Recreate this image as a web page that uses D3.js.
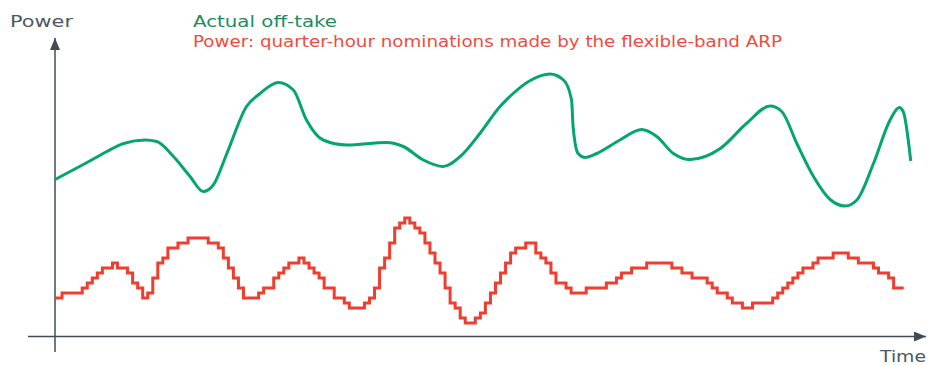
<!DOCTYPE html>
<html>
<head>
<meta charset="utf-8">
<script src="https://cdn.jsdelivr.net/npm/d3@7"></script>
<style>
  html, body { margin: 0; padding: 0; background: #ffffff; }
  svg { display: block; }
  text { font-family: "DejaVu Sans", sans-serif; font-size: 16.5px; }
</style>
</head>
<body>
<svg id="chart" width="928" height="365"></svg>
<script>
// Quarter-hour nominations of the flexible-band ARP (one value per quarter-hour)
const nominations = [
  8, 9, 9, 9, 9, 10, 11, 12, 13, 14, 14, 15, 14, 14, 13, 11, 10, 8, 9, 12,
  15, 16, 18, 18, 19, 19, 20, 20, 20, 20, 19, 19, 18, 16, 14, 12, 10, 8, 8, 8,
  9, 10, 10, 12, 13, 14, 15, 15, 16, 15, 14, 13, 12, 10, 10, 8, 8, 7, 6, 6,
  6, 7, 8, 10, 14, 16, 19, 22, 23, 24, 23, 22, 21, 19, 17, 15, 13, 10, 7, 6,
  4, 3, 3, 4, 5, 7, 9, 11, 13, 15, 17, 18, 18, 19, 19, 17, 16, 15, 13, 11,
  11, 10, 9, 9, 9, 10, 10, 10, 10, 11, 11, 12, 13, 13, 14, 14, 14, 15, 15, 15,
  15, 15, 14, 14, 13, 13, 12, 12, 12, 11, 10, 9, 9, 8, 7, 7, 6, 6, 7, 7,
  7, 7, 8, 9, 10, 11, 12, 13, 14, 14, 15, 16, 16, 16, 17, 17, 17, 16, 16, 15,
  15, 15, 14, 13, 13, 12, 10, 10
];

// Actual off-take: sampled along the time axis (quarter-hour index) and power
const offtakeTime = [
  -0.4, 6.5, 9.9, 13.2, 17.5, 19.8, 23.1, 26.4, 29.0, 31.0, 33.7, 37.6, 40.3,
  43.9, 46.9, 49.5, 52.8, 57.5, 65.4, 68.7, 72.7, 76.6, 80.0, 83.9, 87.9, 90.5,
  93.9, 97.8, 100.5, 102.1, 102.4, 103.4, 104.8, 107.1, 111.7, 116.0, 119.0,
  122.3, 125.6, 131.6, 136.8, 141.5, 143.8, 146.8, 150.1, 153.4, 156.4, 158.7,
  162.0, 165.3, 167.1, 167.9, 169.4
];
const offtakePower = [
  31.7, 35.4, 37.3, 38.9, 39.6, 39.3, 36.3, 32.3, 29.3, 30.6, 36.9, 46.3, 48.9,
  51.1, 49.6, 43.6, 39.6, 38.6, 39.1, 38.3, 35.6, 34.3, 36.3, 40.9, 46.3, 48.9,
  51.5, 52.8, 51.6, 47.6, 42.3, 36.9, 36.1, 36.9, 39.6, 41.7, 40.3,
  36.9, 35.7, 37.9, 42.9, 46.4, 45.3, 38.9, 32.3, 27.7, 26.4, 27.6,
  34.9, 43.6, 46.1, 45.3, 35.4
];

const legendLabels = [
  "Actual off-take",
  "Power: quarter-hour nominations made by the flexible-band ARP"
];
const axisLabels = { y: "Power", x: "Time" };

const colors = {
  axis: "#3f4c56",
  axisText: "#4b5862",
  offtake: "#05a472",
  offtakeText: "#1c8c5e",
  nomination: "#ef3e30",
  nominationText: "#ef4b3d"
};

const svg = d3.select("#chart");

const x = d3.scaleLinear().domain([-0.4, 168]).range([55, 903.7]);
const y = d3.scaleLinear().domain([0, 60]).range([338, 38]);

const axisX = x(x.domain()[0]);
const axisY = 336.5;

// Axis arrow heads
const defs = svg.append("defs");
defs.append("marker")
  .attr("id", "arrow")
  .attr("viewBox", "0 0 12 10")
  .attr("refX", 12).attr("refY", 5)
  .attr("markerWidth", 12).attr("markerHeight", 10)
  .attr("markerUnits", "userSpaceOnUse")
  .attr("orient", "auto")
  .append("path")
  .attr("d", "M0,0 L12,5 L0,10 Z")
  .attr("fill", colors.axis);

// Horizontal time axis
svg.append("line")
  .attr("x1", 28).attr("y1", axisY)
  .attr("x2", 926).attr("y2", axisY)
  .attr("stroke", colors.axis).attr("stroke-width", 1.5)
  .attr("marker-end", "url(#arrow)");

// Vertical power axis
svg.append("line")
  .attr("x1", axisX).attr("y1", 352)
  .attr("x2", axisX).attr("y2", 38)
  .attr("stroke", colors.axis).attr("stroke-width", 1.5)
  .attr("marker-end", "url(#arrow)");

// Nominations as a step line
const stepPoints = nominations.map((v, i) => [i === 0 ? x.domain()[0] : i, v]);
stepPoints.push([nominations.length, nominations[nominations.length - 1]]);

const stepLine = d3.line()
  .x(d => x(d[0]))
  .y(d => y(d[1]))
  .curve(d3.curveStepAfter);

svg.append("path")
  .datum(stepPoints)
  .attr("d", stepLine)
  .attr("fill", "none")
  .attr("stroke", colors.nomination)
  .attr("stroke-width", 3)
  .attr("stroke-linejoin", "miter");

// Actual off-take as a smooth curve
const offtake = offtakeTime.map((t, i) => [t, offtakePower[i]]);
const smoothLine = d3.line()
  .x(d => x(d[0]))
  .y(d => y(d[1]))
  .curve(d3.curveMonotoneX);

svg.append("path")
  .datum(offtake)
  .attr("d", smoothLine)
  .attr("fill", "none")
  .attr("stroke", colors.offtake)
  .attr("stroke-width", 3)
  .attr("stroke-linecap", "butt");

// Text helper: labels are spread to their set width
function label(txt, px, py, width, fill) {
  svg.append("text")
    .attr("x", px).attr("y", py)
    .attr("fill", fill)
    .attr("textLength", width)
    .attr("lengthAdjust", "spacingAndGlyphs")
    .text(txt);
}

// Axis titles
label(axisLabels.y, 10, 27, 63, colors.axisText);
label(axisLabels.x, 880, 362, 46, colors.axisText);

// Legend
label(legendLabels[0], 193, 27, 144, colors.offtakeText);
label(legendLabels[1], 193, 47, 589, colors.nominationText);
</script>
</body>
</html>
